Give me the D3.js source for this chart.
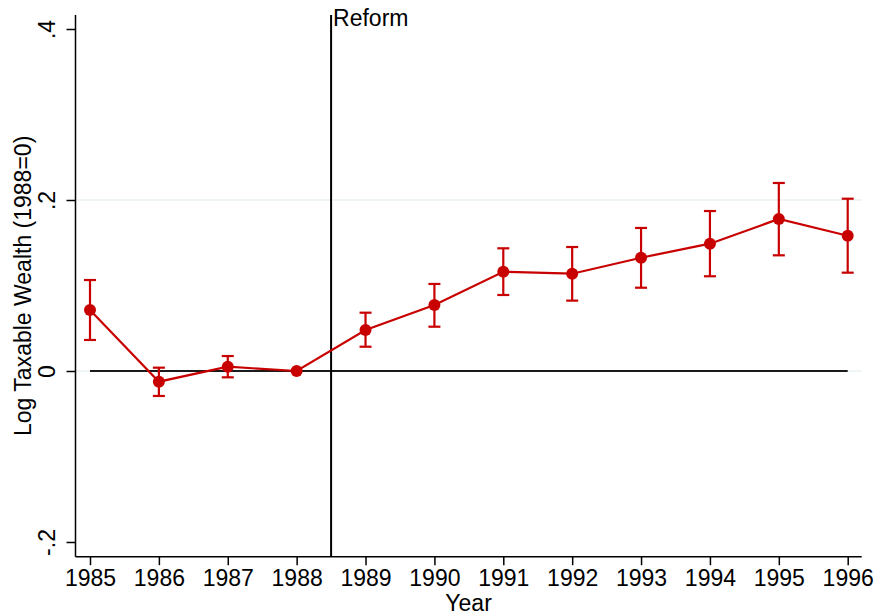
<!DOCTYPE html>
<html>
<head>
<meta charset="utf-8">
<script src="https://cdn.jsdelivr.net/npm/d3@7"></script>
<style>
  html, body { margin: 0; padding: 0; background: #fff; }
  svg { display: block; font-family: "Liberation Sans", Arial, sans-serif; }
</style>
</head>
<body>
<svg id="chart" width="875" height="615"></svg>
<script>
const years = [1985, 1986, 1987, 1988, 1989, 1990, 1991, 1992, 1993, 1994, 1995, 1996];
const estimate = [0.0713, -0.0125, 0.0050, 0.0, 0.0480, 0.0772, 0.1161, 0.1138, 0.1325, 0.1489, 0.1778, 0.1582];
const ciUpper = [0.1064, 0.0039, 0.0175, 0.0, 0.0682, 0.1018, 0.1435, 0.1450, 0.1673, 0.1871, 0.2199, 0.2015];
const ciLower = [0.0363, -0.0292, -0.0074, 0.0, 0.0284, 0.0518, 0.0889, 0.0823, 0.0974, 0.1108, 0.1353, 0.1150];
const yTicks = [-0.2, 0, 0.2, 0.4];
const yTickLabels = ["-.2", "0", ".2", ".4"];
const gridTicks = [0, 0.2];
const reformYear = 1988.5;
const reformLabel = "Reform";
const xTitle = "Year";
const yTitle = "Log Taxable Wealth (1988=0)";

const svg = d3.select("#chart");
const mLeft = 75.5, mRight = 861.7, mTop = 15, mBottom = 556.7;
const red = "#c80000";
const fs = 23;

const x = d3.scaleLinear().domain([1985, 1996]).range([90, 847.7]);
const y = d3.scaleLinear().domain([0, 0.2]).range([371, 200]);

// gridlines
svg.append("g").selectAll("line").data(gridTicks).join("line")
  .attr("x1", mLeft).attr("x2", mRight)
  .attr("y1", d => y(d)).attr("y2", d => y(d))
  .attr("stroke", "#eaf2f3").attr("stroke-width", 1.5);

// zero reference line
svg.append("line")
  .attr("x1", x(years[0])).attr("x2", x(years[years.length - 1]))
  .attr("y1", y(0)).attr("y2", y(0))
  .attr("stroke", "#1a1a1a").attr("stroke-width", 2);

// reform line
svg.append("line")
  .attr("x1", x(reformYear)).attr("x2", x(reformYear))
  .attr("y1", mTop).attr("y2", mBottom)
  .attr("stroke", "#000").attr("stroke-width", 2);
svg.append("text")
  .attr("x", x(reformYear) + 2).attr("y", 26)
  .attr("font-size", fs).attr("fill", "#000")
  .text(reformLabel);

// axes
const yAxis = d3.axisLeft(y).tickValues(yTicks).tickSize(9)
  .tickFormat((d, i) => yTickLabels[i]);
const gy = svg.append("g").attr("transform", `translate(${mLeft},0)`).call(yAxis);
gy.select(".domain").attr("d", `M0,${mTop}V${mBottom}`).attr("stroke", "#000").attr("stroke-width", 1.5);
gy.selectAll(".tick line").attr("stroke", "#000").attr("stroke-width", 1.5);
gy.selectAll(".tick text")
  .attr("font-size", fs).attr("fill", "#000")
  .attr("text-anchor", "middle")
  .attr("transform", "rotate(-90)")
  .attr("x", 0).attr("y", -20.5).attr("dy", "0");

const xAxis = d3.axisBottom(x).tickValues(years).tickSize(8.5).tickFormat(d3.format("d"));
const gx = svg.append("g").attr("transform", `translate(0,${mBottom})`).call(xAxis);
gx.select(".domain").attr("d", `M${mLeft},0H${mRight}`).attr("stroke", "#000").attr("stroke-width", 1.5);
gx.selectAll(".tick line").attr("stroke", "#000").attr("stroke-width", 1.5);
gx.selectAll(".tick text").attr("font-size", fs).attr("fill", "#000")
  .attr("y", 29.5).attr("dy", "0");

// axis titles
svg.append("text")
  .attr("x", (mLeft + mRight) / 2).attr("y", 611)
  .attr("text-anchor", "middle").attr("font-size", fs).attr("fill", "#000")
  .text(xTitle);
svg.append("text")
  .attr("transform", `translate(31,${(mTop + mBottom) / 2}) rotate(-90)`)
  .attr("text-anchor", "middle").attr("font-size", fs).attr("fill", "#000")
  .text(yTitle);

// data
const data = years.map((yr, i) => ({ yr, est: estimate[i], lo: ciLower[i], hi: ciUpper[i] }));

svg.append("path").datum(data)
  .attr("fill", "none").attr("stroke", red).attr("stroke-width", 2.2)
  .attr("d", d3.line().x(d => x(d.yr)).y(d => y(d.est)));

const eb = svg.append("g").selectAll("g").data(data.filter(d => d.hi !== d.lo)).join("g")
  .attr("stroke", red).attr("stroke-width", 2.2);
eb.append("line").attr("x1", d => x(d.yr)).attr("x2", d => x(d.yr))
  .attr("y1", d => y(d.hi)).attr("y2", d => y(d.lo));
eb.append("line").attr("x1", d => x(d.yr) - 6).attr("x2", d => x(d.yr) + 6)
  .attr("y1", d => y(d.hi)).attr("y2", d => y(d.hi));
eb.append("line").attr("x1", d => x(d.yr) - 6).attr("x2", d => x(d.yr) + 6)
  .attr("y1", d => y(d.lo)).attr("y2", d => y(d.lo));

svg.append("g").selectAll("circle").data(data).join("circle")
  .attr("cx", d => x(d.yr)).attr("cy", d => y(d.est)).attr("r", 6)
  .attr("fill", red);
</script>
</body>
</html>
